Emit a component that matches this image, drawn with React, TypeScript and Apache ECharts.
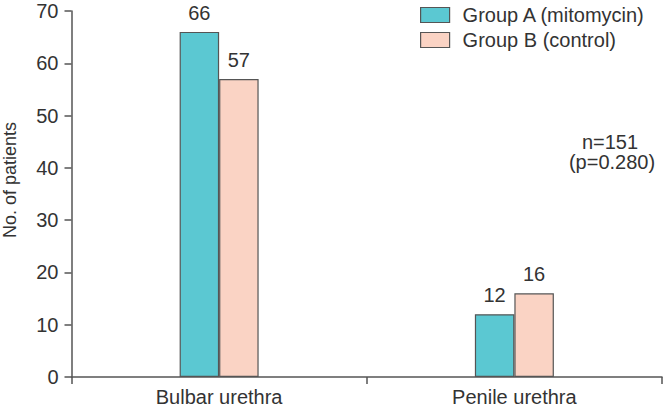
import React, { useEffect, useRef } from "react";
import * as echarts from "echarts";

const categories = ["Bulbar urethra", "Penile urethra"];
const groupA = [66, 12];
const groupB = [57, 16];
const seriesNames = ["Group A (mitomycin)", "Group B (control)"];
const yTicks = { min: 0, max: 70, interval: 10 };
const yTitle = "No. of patients";
const annotation = ["n=151", "(p=0.280)"];

const FONT = "Liberation Sans, Arial, sans-serif";
const TXT = "#333333";
const LINE = "#555555";
const FS = 20;

export default function App() {
  const ref = useRef<HTMLDivElement>(null);
  useEffect(() => {
    if (!ref.current) return;
    const chart = echarts.init(ref.current, null, { renderer: "svg" });
    const barStyle = (color: string) => ({
      color,
      borderColor: LINE,
      borderWidth: 1.2,
    });
    const labelStyle = {
      show: true,
      position: "top",
      fontSize: FS,
      color: TXT,
      fontFamily: FONT,
      distance: 9,
    };
    chart.setOption({
      animation: false,
      textStyle: { fontFamily: FONT, color: TXT },
      grid: {
        left: 71.5,
        right: 2,
        top: 11,
        bottom: 34,
        containLabel: false,
        outerBoundsMode: "none",
      },
      legend: {
        orient: "vertical",
        left: 415,
        top: 0,
        itemWidth: 29,
        itemHeight: 15,
        itemGap: 5,
        icon: "rect",
        itemStyle: { borderColor: LINE, borderWidth: 1.2 },
        textStyle: {
          fontSize: FS,
          color: TXT,
          fontFamily: FONT,
          lineHeight: 20,
          padding: [0, 0, 0, 8],
        },
        data: seriesNames,
      },
      xAxis: {
        type: "category",
        data: categories,
        axisLine: { lineStyle: { color: LINE, width: 1.5 } },
        axisTick: { show: true, length: 7, lineStyle: { color: LINE, width: 1.5 } },
        axisLabel: { fontSize: FS, color: TXT, fontFamily: FONT, margin: 10 },
      },
      yAxis: {
        type: "value",
        min: yTicks.min,
        max: yTicks.max,
        interval: yTicks.interval,
        splitLine: { show: false },
        axisLine: { show: true, lineStyle: { color: LINE, width: 1.5 } },
        axisTick: { show: true, length: 7, lineStyle: { color: LINE, width: 1.5 } },
        axisLabel: { fontSize: FS, color: TXT, fontFamily: FONT, margin: 13 },
      },
      series: [
        {
          name: seriesNames[0],
          type: "bar",
          data: groupA,
          barWidth: 39.5,
          barGap: "0%",
          itemStyle: barStyle("#5BC8D2"),
          label: labelStyle,
        },
        {
          name: seriesNames[1],
          type: "bar",
          data: groupB,
          barWidth: 39.5,
          barGap: "0%",
          itemStyle: barStyle("#FAD3C4"),
          label: labelStyle,
        },
      ],
      graphic: [
        {
          type: "text",
          x: 10,
          y: 180,
          rotation: Math.PI / 2,
          style: {
            text: yTitle,
            font: `18px ${FONT}`,
            fill: TXT,
            align: "center",
            verticalAlign: "middle",
          },
        },
        {
          type: "text",
          x: 610,
          y: 142,
          style: {
            text: annotation[0],
            font: `${FS}px ${FONT}`,
            fill: TXT,
            align: "center",
            verticalAlign: "middle",
          },
        },
        {
          type: "text",
          x: 612,
          y: 162,
          style: {
            text: annotation[1],
            font: `${FS}px ${FONT}`,
            fill: TXT,
            align: "center",
            verticalAlign: "middle",
          },
        },
      ],
    });
    return () => chart.dispose();
  }, []);
  return (
    <div
      ref={ref}
      style={{ width: 664, height: 411, position: "absolute", left: 0, top: 0 }}
    />
  );
}
